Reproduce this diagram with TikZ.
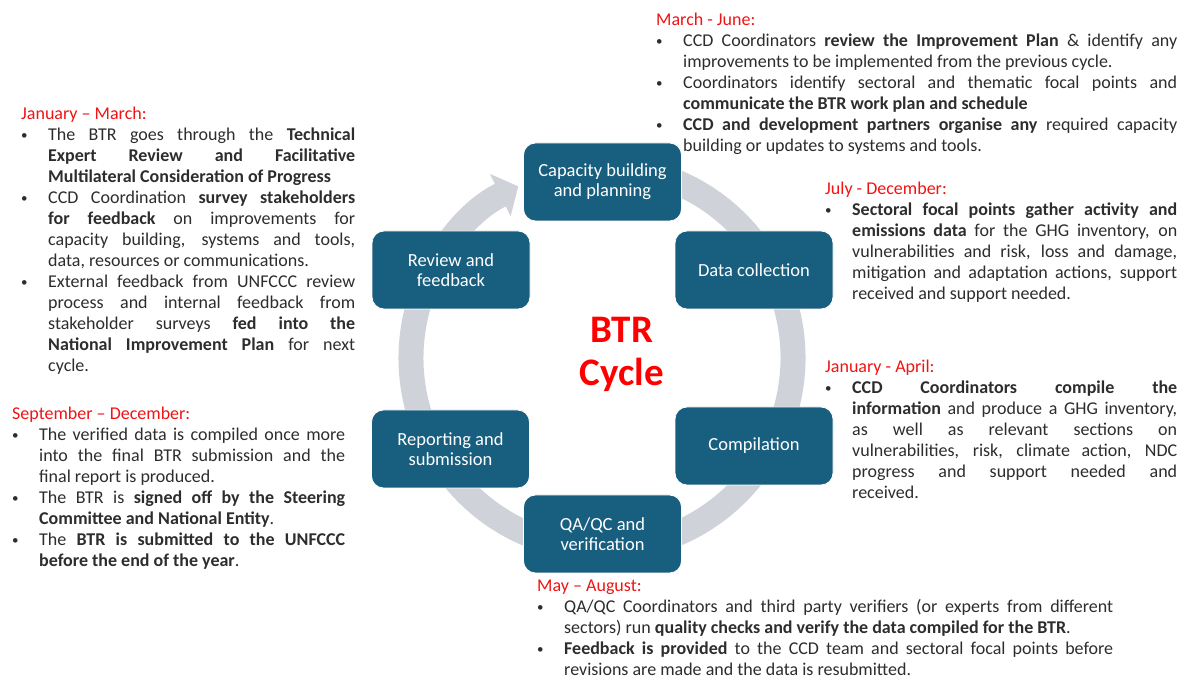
\documentclass[tikz,border=0pt]{standalone}
\usepackage{fontspec}
\setmainfont{Carlito}
\usepackage{xcolor}
\usetikzlibrary{positioning,arrows.meta}
\definecolor{boxblue}{RGB}{24,94,126}
\definecolor{ringgray}{RGB}{207,211,217}
\definecolor{bodygray}{RGB}{45,45,45}
\definecolor{monthred}{RGB}{240,20,20}
\newcommand{\hd}[1]{\tolerance=10000\hyphenpenalty=10000{\color{monthred}#1}\par}
\newcommand{\itm}[1]{\hangindent=27pt\hangafter=1\noindent\hbox to 27pt{\raisebox{1.5pt}{\fontsize{13}{13}\selectfont\textbullet}\hfil}#1\par}
\tikzset{
  phase/.style={rectangle, rounded corners=12pt, fill=boxblue, draw=white, line width=0.8pt,
    minimum width=158pt, minimum height=78pt, text=white, align=center,
    font=\fontsize{18.5}{20}\selectfont},
  note/.style={anchor=base west, inner sep=0pt, align=justify, text=bodygray,
    font=\fontsize{18}{21}\selectfont},
}

\begin{document}
\begin{tikzpicture}[x=1pt,y=1pt]
\fill[white] (0,0) rectangle (1180,679);
\useasboundingbox (0,0) rectangle (1180,679);
\coordinate (hub) at (602,321);
\draw[ringgray, line width=25pt, -{Triangle[length=20pt,width=46pt]}] ([shift={(80:191)}]hub) arc[start angle=80, end angle=-244, radius=191];
\node[phase] (capb) at (602.5,497) {Capacity building\\and planning};
\node[phase] (datac) at (754,409) {Data collection};
\node[phase] (compil) at (754,233) {Compilation};
\node[phase] (qaqc) at (602.5,145) {QA/QC and\\verification};
\node[phase] (repsub) at (450.5,230) {Reporting and\\submission};
\node[phase] (revfb) at (451,409) {Review and\\feedback};
\node[red, font=\fontsize{39}{43}\selectfont\bfseries, align=center] (btr) at (622,325) {BTR\\Cycle};
\node[note, text width=521pt] (marjun) at (656,653) {\hd{March - June:}%
\itm{CCD Coordinators \textbf{review the Improvement Plan} \& identify any\linebreak improvements to be implemented from the previous cycle.}%
\itm{Coordinators identify sectoral and thematic focal points and\linebreak \textbf{communicate the BTR work plan and schedule}}%
\itm{\textbf{CCD and development partners organise any} required capacity\linebreak building or updates to systems and tools.}};
\node[note, text width=352pt] (juldec) at (825,484) {\hd{July - December:}%
\itm{\textbf{Sectoral focal points gather activity and\linebreak emissions data} for the GHG inventory, on\linebreak vulnerabilities and risk, loss and damage,\linebreak mitigation and adaptation actions, support\linebreak received and support needed.}};
\node[note, text width=352pt] (janapr) at (825,306) {\hd{January - April:}%
\itm{\textbf{CCD Coordinators compile the\linebreak information} and produce a GHG inventory,\linebreak as well as relevant sections on\linebreak vulnerabilities, risk, climate action, NDC\linebreak progress and support needed and\linebreak received.}};
\node[note, text width=334pt] (janmar) at (21,559) {\hd{January – March:}%
\itm{The BTR goes through the \textbf{Technical\linebreak Expert Review and Facilitative\linebreak Multilateral Consideration of Progress}}%
\itm{CCD Coordination \textbf{survey stakeholders\linebreak for feedback} on improvements for\linebreak capacity building, systems and tools,\linebreak data, resources or communications.}%
\itm{External feedback from UNFCCC review\linebreak process and internal feedback from\linebreak stakeholder surveys \textbf{fed into the\linebreak National Improvement Plan} for next\linebreak cycle.}};
\node[note, text width=333pt] (sepdec) at (12,259) {\hd{September – December:}%
\itm{The verified data is compiled once more\linebreak into the final BTR submission and the\linebreak final report is produced.}%
\itm{The BTR is \textbf{signed off by the Steering\linebreak Committee and National Entity}.}%
\itm{The \textbf{BTR is submitted to the UNFCCC\linebreak before the end of the year}.}};
\node[note, text width=576pt] (mayaug) at (537,87) {\hd{May – August:}%
\itm{QA/QC Coordinators and third party verifiers (or experts from different\linebreak sectors) run \textbf{quality checks and verify the data compiled for the BTR}.}%
\itm{\textbf{Feedback is provided} to the CCD team and sectoral focal points before\linebreak revisions are made and the data is resubmitted.}};
\end{tikzpicture}
\end{document}
